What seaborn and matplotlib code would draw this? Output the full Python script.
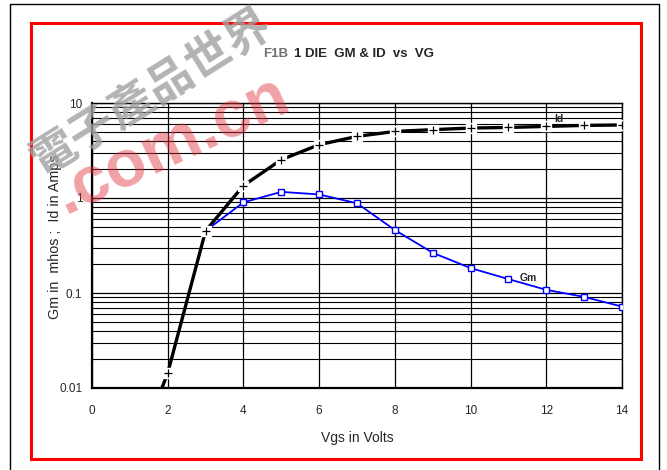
import matplotlib
matplotlib.use("Agg")
import matplotlib.pyplot as plt
import matplotlib.ticker as mticker
from matplotlib.patches import Rectangle
import numpy as np
import pandas as pd
import seaborn as sns

# values
vgs_id = [1, 2, 3, 4, 5, 6, 7, 8, 9, 10, 11, 12, 13, 14]
id_amps = [0.0013, 0.0144, 0.45, 1.35, 2.53, 3.64, 4.45, 5.02, 5.24, 5.45, 5.53, 5.67, 5.81, 5.87]
vgs_gm = [3, 4, 5, 6, 7, 8, 9, 10, 11, 12, 13, 14]
gm_mhos = [0.45, 0.90, 1.16, 1.09, 0.88, 0.46, 0.265, 0.183, 0.140, 0.108, 0.091, 0.072]
x_ticks = [0, 2, 4, 6, 8, 10, 12, 14]
y_ticks = [0.01, 0.1, 1, 10]
y_tick_labels = ["0.01", "0.1", "1", "10"]

W, H = 667, 470
sns.set_style("white")
plt.rcParams["font.family"] = ["Liberation Sans", "DejaVu Sans"]

fig = plt.figure(figsize=(W / 100, H / 100), dpi=100)
fig.patch.set_facecolor("white")


def fx(px):
    return px / W


def fy(py):
    return 1 - py / H


ax = fig.add_axes([fx(92), fy(388), fx(622) - fx(92), fy(103) - fy(388)])

df_id = pd.DataFrame({"Vgs": vgs_id, "Id": id_amps})
df_gm = pd.DataFrame({"Vgs": vgs_gm, "Gm": gm_mhos})

ax.set_yscale("log")
ax.set_xlim(0, 14)
ax.set_ylim(0.01, 10)

# grid
ax.yaxis.set_minor_locator(mticker.LogLocator(base=10, subs=np.arange(2, 10)))
ax.yaxis.set_minor_formatter(mticker.NullFormatter())
ax.grid(True, which="major", axis="both", color="black", linewidth=0.9)
ax.grid(True, which="minor", axis="y", color="black", linewidth=0.8)
ax.set_axisbelow(True)

sns.lineplot(data=df_id, x="Vgs", y="Id", ax=ax, color="black", linewidth=2.4,
             estimator=None, sort=False, zorder=3)
ax.plot(vgs_id[1:], id_amps[1:], linestyle="none", marker="s", markersize=6.5,
        markerfacecolor="white", markeredgecolor="white", zorder=4)
ax.plot(vgs_id[1:], id_amps[1:], linestyle="none", marker="+", markersize=6,
        markeredgewidth=0.9, color="black", zorder=5)

sns.lineplot(data=df_gm, x="Vgs", y="Gm", ax=ax, color="#0000ff", linewidth=1.3,
             estimator=None, sort=False, zorder=3, marker="s", markersize=4.8,
             markerfacecolor="white", markeredgecolor="#0000ff", markeredgewidth=1.0)

ax.text(12.2, 6.3, "Id", fontsize=7.5, fontweight="bold", zorder=6)
ax.text(11.3, 0.135, "Gm", fontsize=7.5, fontweight="bold", zorder=6)

ax.set_xticks(x_ticks)
ax.set_xticklabels([str(t) for t in x_ticks])
ax.set_yticks(y_ticks)
ax.set_yticklabels(y_tick_labels)
ax.tick_params(axis="x", length=0, pad=12, labelsize=8.5)
ax.tick_params(axis="y", which="major", length=4, width=1, pad=3, labelsize=8.5)
ax.tick_params(axis="y", which="minor", length=0)
for s in ax.spines.values():
    s.set_color("black")
    s.set_linewidth(1.0)
ax.spines["left"].set_linewidth(1.6)
ax.spines["bottom"].set_linewidth(1.6)

ax.set_xlabel("Vgs in Volts", fontsize=10, labelpad=10)
ax.set_ylabel("Gm in  mhos ;  Id in Amps", fontsize=10.3)
ax.yaxis.set_label_coords(-0.057, 0.53)

# title, "F1B" is greyed out under the watermark
fig.text(fx(263), fy(54), "F1B", fontsize=9.5, fontweight="bold", color="#707070",
         ha="left", va="center")
fig.text(fx(294), fy(54), "1 DIE  GM & ID  vs  VG", fontsize=9.5,
         fontweight="bold", ha="left", va="center")

# frames
fig.patches.append(Rectangle((fx(31), fy(459)), fx(641) - fx(31), fy(23) - fy(459),
                             transform=fig.transFigure, fill=False,
                             edgecolor="#ff0000", linewidth=2.2, zorder=10))
fig.patches.append(Rectangle((fx(10), fy(475)), fx(659) - fx(10), fy(4) - fy(475),
                             transform=fig.transFigure, fill=False,
                             edgecolor="black", linewidth=1.0, zorder=10))

# watermark
fig.text(fx(152), fy(93), "電子產品世界", fontsize=33, fontweight="bold",
         color="#a0a0a0", alpha=0.8, rotation=32, rotation_mode="anchor",
         ha="center", va="center", family=["Noto Sans CJK TC", "DejaVu Sans"],
         zorder=20)
fig.text(fx(172), fy(146), ".com.cn", fontsize=48, fontweight="bold",
         color="#e0303c", alpha=0.45, rotation=25, rotation_mode="anchor",
         ha="center", va="center", zorder=20)

fig.savefig("out.png", dpi=100)
